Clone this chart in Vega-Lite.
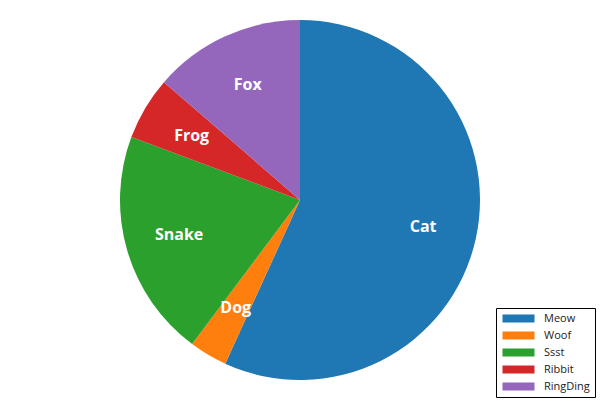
{
  "$schema": "https://vega.github.io/schema/vega-lite/v6.json",
  "width": 600,
  "height": 400,
  "padding": 0,
  "autosize": {"type": "none"},
  "background": "white",
  "config": {"view": {"stroke": null}},
  "data": {
    "values": [
      {"animal": "Cat", "sound": "Meow", "value": 50, "idx": 1},
      {"animal": "Dog", "sound": "Woof", "value": 3, "idx": 2},
      {"animal": "Snake", "sound": "Ssst", "value": 18, "idx": 3},
      {"animal": "Frog", "sound": "Ribbit", "value": 5, "idx": 4},
      {"animal": "Fox", "sound": "RingDing", "value": 12, "idx": 5}
    ]
  },
  "encoding": {
    "theta": {"field": "value", "type": "quantitative", "stack": true},
    "order": {"field": "idx", "type": "quantitative"}
  },
  "layer": [
    {
      "mark": {"type": "arc", "outerRadius": 180},
      "encoding": {
        "color": {
          "field": "sound",
          "type": "nominal",
          "scale": {
            "domain": ["Meow", "Woof", "Ssst", "Ribbit", "RingDing"],
            "range": ["#1f77b4", "#ff7f0e", "#2ca02c", "#d62728", "#9467bd"]
          },
          "legend": {
            "title": null,
            "orient": "none",
            "legendX": 496,
            "legendY": 308,
            "strokeColor": "black",
            "padding": 5,
            "symbolType": "M-4,-1H4V1H-4Z",
            "symbolSize": 64,
            "symbolOffset": 12,
            "symbolStrokeWidth": 0,
            "symbolOpacity": 1,
            "labelFont": "Open Sans",
            "labelFontSize": 11,
            "labelColor": "#222",
            "rowPadding": 5,
            "labelOffset": 20
          }
        }
      }
    },
    {
      "mark": {"type": "text", "radius": 126, "font": "Open Sans", "fontSize": 16, "fontWeight": "bold", "fill": "white"},
      "encoding": {"text": {"field": "animal", "type": "nominal"}}
    }
  ]
}
